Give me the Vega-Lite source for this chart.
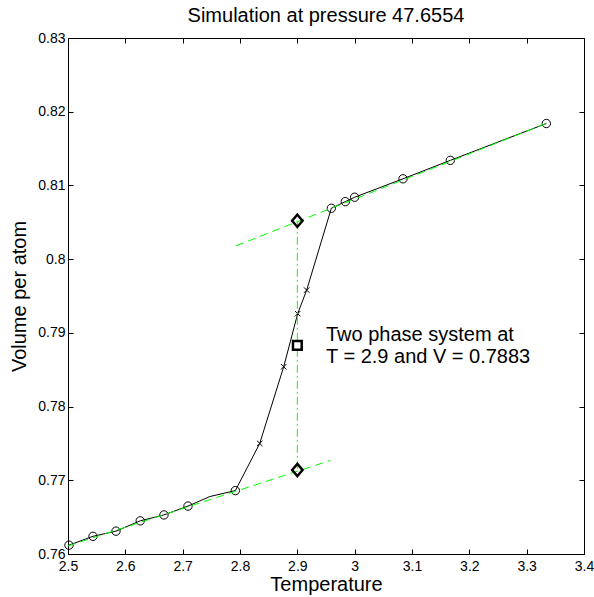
{
  "$schema": "https://vega.github.io/schema/vega-lite/v6.json",
  "width": 516,
  "height": 516,
  "autosize": "none",
  "padding": {"left": 68, "top": 38, "right": 10, "bottom": 43},
  "background": "white",
  "title": {"text": "Simulation at pressure 47.6554", "fontSize": 20, "font": "Liberation Sans", "fontWeight": "normal", "color": "black", "offset": 5},
  "config": {
    "font": "Liberation Sans",
    "view": {"stroke": "black", "strokeWidth": 1},
    "axis": {"grid": false, "domainColor": "black", "tickColor": "black", "labelColor": "black", "titleColor": "black", "labelFontSize": 14, "titleFontSize": 20, "titleFontWeight": "normal", "labelFont": "Liberation Sans", "titleFont": "Liberation Sans", "tickSize": -5, "labelFlush": false, "labelOverlap": false, "minExtent": 0}
  },
  "datasets": {
    "pts": [
      {"T": 2.5017, "V": 0.7612, "m": "o"},
      {"T": 2.5436, "V": 0.7624, "m": "o"},
      {"T": 2.5837, "V": 0.7631, "m": "o"},
      {"T": 2.626, "V": 0.7645, "m": "o"},
      {"T": 2.6674, "V": 0.7653, "m": "o"},
      {"T": 2.7093, "V": 0.7665, "m": "o"},
      {"T": 2.7477, "V": 0.7678, "m": "none"},
      {"T": 2.7919, "V": 0.7686, "m": "o"},
      {"T": 2.8344, "V": 0.775, "m": "x"},
      {"T": 2.8762, "V": 0.7854, "m": "x"},
      {"T": 2.9006, "V": 0.7926, "m": "x"},
      {"T": 2.9163, "V": 0.7958, "m": "x"},
      {"T": 2.9593, "V": 0.8069, "m": "o"},
      {"T": 2.9837, "V": 0.8078, "m": "o"},
      {"T": 3.0, "V": 0.8084, "m": "o"},
      {"T": 3.0843, "V": 0.8109, "m": "o"},
      {"T": 3.1668, "V": 0.8134, "m": "o"},
      {"T": 3.3343, "V": 0.8184, "m": "o"}
    ],
    "fit": [
      {"line": "lower", "T": 2.5, "V": 0.7611},
      {"line": "lower", "T": 2.958, "V": 0.7727},
      {"line": "upper", "T": 2.793, "V": 0.8018},
      {"line": "upper", "T": 3.334, "V": 0.8184}
    ],
    "tie": [
      {"T": 2.9, "V": 0.8052},
      {"T": 2.9, "V": 0.7714}
    ],
    "sq": [{"T": 2.9, "V": 0.7883}],
    "txt": [
      {"T": 2.95, "V": 0.78886, "label": "Two phase system at"},
      {"T": 2.95, "V": 0.78592, "label": "T = 2.9 and V = 0.7883"}
    ]
  },
  "layer": [
    {
      "data": {"name": "pts"},
      "mark": {"type": "line", "color": "black", "strokeWidth": 1},
      "encoding": {
        "x": {"field": "T", "type": "quantitative", "scale": {"domain": [2.5, 3.4], "nice": false, "zero": false},
              "axis": {"title": "Temperature", "values": [2.5, 2.6, 2.7, 2.8, 2.9, 3.0, 3.1, 3.2, 3.3, 3.4], "format": ".1~f", "labelPadding": 10, "titlePadding": 1}},
        "y": {"field": "V", "type": "quantitative", "scale": {"domain": [0.76, 0.83], "nice": false, "zero": false},
              "axis": {"title": "Volume per atom", "values": [0.76, 0.77, 0.78, 0.79, 0.8, 0.81, 0.82, 0.83], "format": ".2~f", "labelPadding": 8, "titlePadding": 8}},
        "order": {"field": "T", "type": "quantitative"}
      }
    },
    {
      "data": {"name": "pts"},
      "transform": [{"filter": "datum.m === 'o'"}],
      "mark": {"type": "point", "shape": "circle", "size": 70, "filled": false, "color": "black", "strokeWidth": 1, "opacity": 1},
      "encoding": {
        "x": {"field": "T", "type": "quantitative", "axis": {"orient": "top", "labels": false, "title": null, "domain": false, "values": [2.5, 2.6, 2.7, 2.8, 2.9, 3.0, 3.1, 3.2, 3.3, 3.4], "minExtent": 0, "maxExtent": 0}},
        "y": {"field": "V", "type": "quantitative", "axis": {"orient": "right", "labels": false, "title": null, "domain": false, "values": [0.76, 0.77, 0.78, 0.79, 0.8, 0.81, 0.82, 0.83], "minExtent": 0, "maxExtent": 0}}
      }
    },
    {
      "data": {"name": "pts"},
      "transform": [{"filter": "datum.m === 'x'"}],
      "mark": {"type": "point", "shape": "M-1,-1L1,1M1,-1L-1,1", "size": 30, "filled": false, "color": "black", "strokeWidth": 1, "opacity": 1},
      "encoding": {
        "x": {"field": "T", "type": "quantitative", "axis": null},
        "y": {"field": "V", "type": "quantitative", "axis": null}
      }
    },
    {
      "data": {"name": "fit"},
      "mark": {"type": "line", "color": "#00ff00", "strokeWidth": 1, "strokeDash": [8, 5]},
      "encoding": {
        "x": {"field": "T", "type": "quantitative", "axis": null},
        "y": {"field": "V", "type": "quantitative", "axis": null},
        "detail": {"field": "line"}
      }
    },
    {
      "data": {"name": "tie"},
      "mark": {"type": "line", "color": "#00ff00", "strokeWidth": 1, "strokeDash": [8, 3, 2, 3]},
      "encoding": {
        "x": {"field": "T", "type": "quantitative", "axis": null},
        "y": {"field": "V", "type": "quantitative", "axis": null}
      }
    },
    {
      "data": {"name": "tie"},
      "mark": {"type": "point", "shape": "M0,-1L0.85,0L0,1L-0.85,0Z", "size": 150, "filled": false, "color": "black", "strokeWidth": 2.5, "opacity": 1},
      "encoding": {
        "x": {"field": "T", "type": "quantitative", "axis": null},
        "y": {"field": "V", "type": "quantitative", "axis": null}
      }
    },
    {
      "data": {"name": "sq"},
      "mark": {"type": "point", "shape": "square", "size": 76, "filled": false, "fill": "white", "fillOpacity": 1, "color": "black", "stroke": "black", "strokeWidth": 2.5, "opacity": 1},
      "encoding": {
        "x": {"field": "T", "type": "quantitative", "axis": null},
        "y": {"field": "V", "type": "quantitative", "axis": null}
      }
    },
    {
      "data": {"name": "txt"},
      "mark": {"type": "text", "align": "left", "baseline": "alphabetic", "fontSize": 20, "font": "Liberation Sans", "color": "black"},
      "encoding": {
        "x": {"field": "T", "type": "quantitative", "axis": null},
        "y": {"field": "V", "type": "quantitative", "axis": null},
        "text": {"field": "label"}
      }
    }
  ],
  "resolve": {"axis": {"x": "independent", "y": "independent"}}
}
